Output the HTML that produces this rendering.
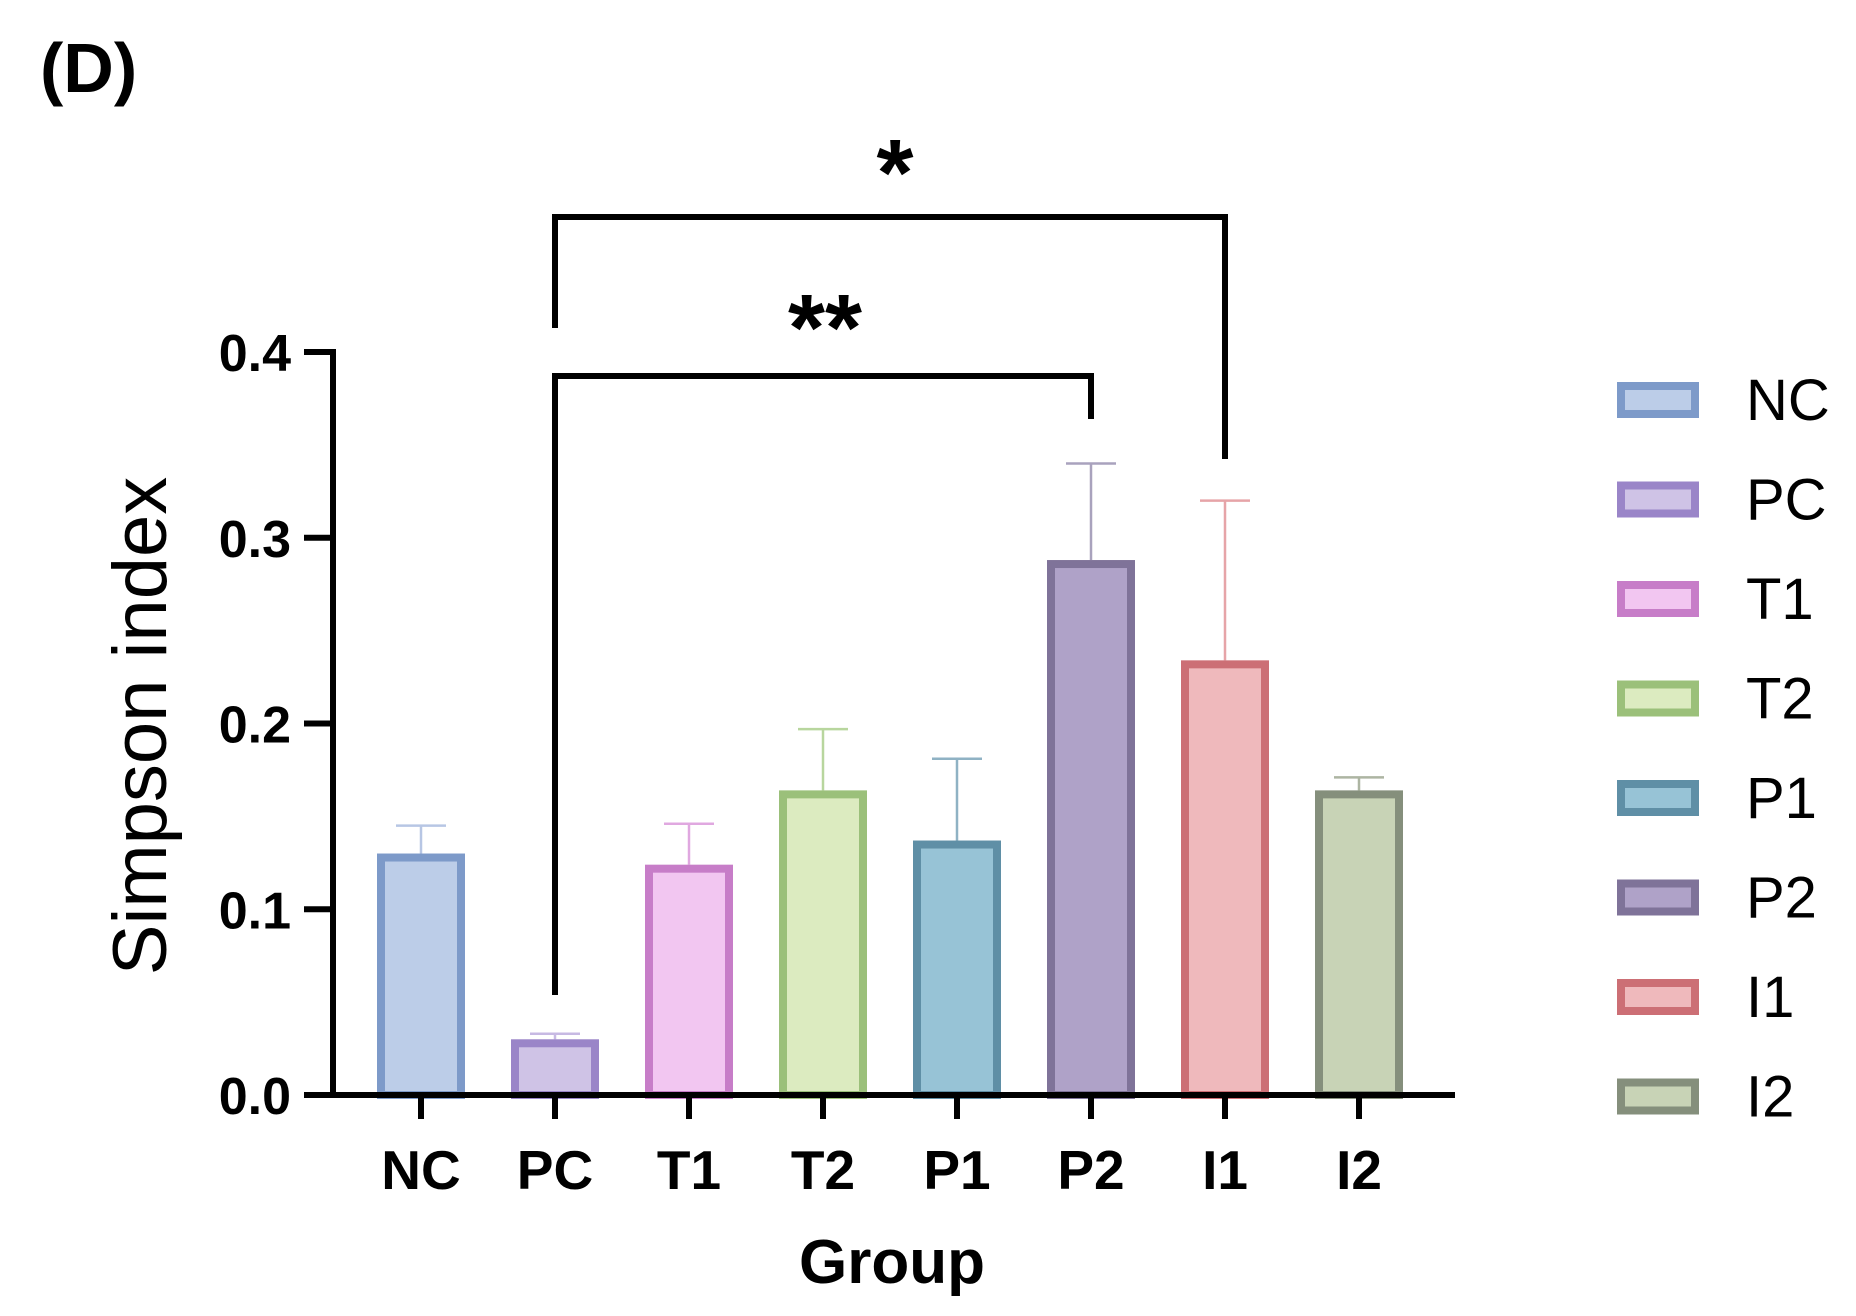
<!DOCTYPE html>
<html><head><meta charset="utf-8">
<style>
html,body{margin:0;padding:0;background:#fff;}
svg{display:block;}
text{font-family:"Liberation Sans",Arial,sans-serif;}
</style></head>
<body>
<svg id="chart" width="1856" height="1316" viewBox="0 0 1856 1316" xmlns="http://www.w3.org/2000/svg">
<text x="40" y="92" font-size="70" font-weight="bold">(D)</text>
<g id="plot"></g>
</svg>
<script>
const categories = ["NC","PC","T1","T2","P1","P2","I1","I2"];
const means = [0.130, 0.030, 0.124, 0.164, 0.137, 0.288, 0.234, 0.164];
const errors = [0.015, 0.003, 0.022, 0.033, 0.044, 0.052, 0.086, 0.007];
const yTicks = [0.0, 0.1, 0.2, 0.3, 0.4];
const yTickLabels = ["0.0","0.1","0.2","0.3","0.4"];
const fills = ["#bccde8","#cfc3e6","#f2c6f1","#dcebc0","#97c3d6","#afa2c8","#efb9bc","#c8d3b6"];
const strokes = ["#7d9ac9","#9a85c8","#c77dc8","#9bc07a","#5f8fa6","#7f7399","#cc6f75","#858f7c"];
const errColors = ["#b7c6e4","#c7b9e3","#e0a8e0","#b8d69e","#8fb2c4","#a9a2bd","#e6a4a8","#adb5a2"];

const NS = "http://www.w3.org/2000/svg";
const g = document.getElementById("plot");
const X0 = 333, XEND = 1455, Y0 = 1095, YTOP = 352, YMAX = 0.4;
const firstCenter = 421, step = 134.0, barW = 88;
function yScale(v){ return Y0 - (v / YMAX) * (Y0 - YTOP); }
function xScale(i){ return firstCenter + i * step; }
function mk(tag, attrs){ const e = document.createElementNS(NS, tag); for (const k in attrs) e.setAttribute(k, attrs[k]); g.appendChild(e); return e; }

categories.forEach((c, i) => {
  const cx = xScale(i), top = yScale(means[i]), sw = 8;
  const eb = mk("line", {x1: cx, x2: cx, y1: yScale(means[i] + errors[i]), y2: top, stroke: errColors[i], "stroke-width": 2.5});
  
  
  const cap = mk("line", {x1: cx - 25, x2: cx + 25, y1: yScale(means[i] + errors[i]), y2: yScale(means[i] + errors[i]), stroke: errColors[i], "stroke-width": 2.5});
  
  
  const r = mk("rect", {x: cx - barW/2 + sw/2, y: top + sw/2, width: barW - sw, height: Y0 - top - sw/2, fill: fills[i], stroke: strokes[i], "stroke-width": sw});
  
  
  const tk = mk("line", {x1: cx, x2: cx, y1: Y0, y2: Y0 + 24, stroke: "#000", "stroke-width": 6});
  
  
  const tl = mk("text", {x: cx, y: 1189, "font-size": 55, "font-weight": "bold", "text-anchor": "middle"});
  tl.textContent = c;
  
  
});

const ya = mk("line", {x1: X0, x2: X0, y1: YTOP - 3, y2: Y0 + 3, stroke: "#000", "stroke-width": 6});


const xa = mk("line", {x1: 304, x2: XEND, y1: Y0, y2: Y0, stroke: "#000", "stroke-width": 6});


yTicks.forEach((t, i) => {
  const y = yScale(t);
  const tk = mk("line", {x1: 304, x2: X0, y1: y, y2: y, stroke: "#000", "stroke-width": 6});
  
  
  const tl = mk("text", {x: 291, y: y + 19, "font-size": 52, "font-weight": "bold", "text-anchor": "end"});
  tl.textContent = yTickLabels[i];
  
  
});
const yt = mk("text", {x: 0, y: 0, "font-size": 76, "text-anchor": "middle", transform: "translate(166,726) rotate(-90)"});
yt.textContent = "Simpson index";


const xt = mk("text", {x: 892, y: 1283, "font-size": 62, "font-weight": "bold", "text-anchor": "middle"});
xt.textContent = "Group";



const b1 = mk("polyline", {points: `${xScale(1)},328 ${xScale(1)},217 ${xScale(6)},217 ${xScale(6)},459`, fill: "none", stroke: "#000", "stroke-width": 6});


const s1 = mk("text", {x: 895, y: 205, "font-size": 95, "font-weight": "bold", "text-anchor": "middle"});
s1.textContent = "*";


const b2 = mk("polyline", {points: `${xScale(1)},995 ${xScale(1)},376 ${xScale(5)},376 ${xScale(5)},419`, fill: "none", stroke: "#000", "stroke-width": 6});


const s2 = mk("text", {x: 825, y: 360, "font-size": 95, "font-weight": "bold", "text-anchor": "middle"});
s2.textContent = "**";



categories.forEach((c, i) => {
  const cy = 400 + i * 99.5;
  const sw = mk("rect", {x: 1621, y: cy - 14, width: 74, height: 28, fill: fills[i], stroke: strokes[i], "stroke-width": 8});
  
  
  const t = mk("text", {x: 1746, y: cy + 20, "font-size": 58});
  t.textContent = c;
  
  
});
</script>
</body></html>
